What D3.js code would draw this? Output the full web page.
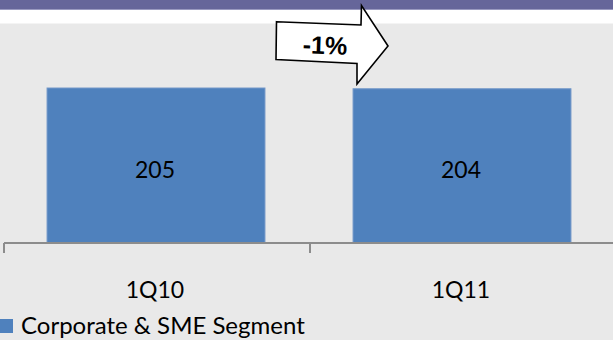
<!DOCTYPE html>
<html>
<head>
<meta charset="utf-8">
<script src="https://cdn.jsdelivr.net/npm/d3@7"></script>
<style>
  html, body { margin: 0; padding: 0; background: #fff; }
  svg { display: block; }
</style>
</head>
<body>
<script>
// ---- data ----
const categories = ["1Q10", "1Q11"];
const values = [205, 204];
const valueLabels = ["205", "204"];
const seriesName = "Corporate & SME Segment";
const changeLabel = "-1%";

const W = 613, H = 340;
const svg = d3.select("body").append("svg").attr("width", W).attr("height", H);

// background bands
svg.append("rect").attr("x", 0).attr("y", 0).attr("width", W).attr("height", H).attr("fill", "#fff");
svg.append("rect").attr("x", 0).attr("y", 23.5).attr("width", W).attr("height", H - 23.5).attr("fill", "#e9e9e9");
svg.append("rect").attr("x", 0).attr("y", 0).attr("width", W).attr("height", 9).attr("fill", "#66669a");
svg.append("rect").attr("x", 0).attr("y", 9).attr("width", W).attr("height", 1).attr("fill", "#9a9ac0");

// scales
const x = d3.scaleBand().domain(categories).range([4, 616]).padding(0);
const barFrac = 0.712;
const y = d3.scaleLinear().domain([0, 250]).range([243, 54]);

const font = "Lato, 'Open Sans', sans-serif";

// bars
const bw = x.bandwidth() * barFrac;
svg.selectAll("rect.bar").data(values).enter().append("rect")
  .attr("class", "bar")
  .attr("x", (d, i) => x(categories[i]) + x.bandwidth() / 2 - bw / 2 - 1)
  .attr("y", d => y(d))
  .attr("width", bw)
  .attr("height", d => y(0) - y(d))
  .attr("fill", "#4f81bd")
  .attr("stroke", "#7096c8")
  .attr("stroke-width", 1);

// value labels
svg.selectAll("text.val").data(valueLabels).enter().append("text")
  .attr("class", "val")
  .attr("x", (d, i) => x(categories[i]) + x.bandwidth() / 2 - 2)
  .attr("y", (d, i) => (y(values[i]) + y(0)) / 2 + 12)
  .attr("text-anchor", "middle")
  .attr("font-family", font)
  .attr("font-size", 23)
  .attr("fill", "#000")
  .text(d => d);

// axis line and ticks at band edges
svg.append("line").attr("x1", x.range()[0]).attr("x2", W).attr("y1", y(0)).attr("y2", y(0))
  .attr("stroke", "#8c8c8c").attr("stroke-width", 2);
const tickPos = categories.map(c => x(c)).concat([x.range()[1]]);
svg.selectAll("line.tick").data(tickPos).enter().append("line")
  .attr("x1", d => d).attr("x2", d => d)
  .attr("y1", y(0)).attr("y2", y(0) + 10)
  .attr("stroke", "#8c8c8c").attr("stroke-width", 2);

// category labels
svg.selectAll("text.cat").data(categories).enter().append("text")
  .attr("x", d => x(d) + x.bandwidth() / 2 - 2)
  .attr("y", 298)
  .attr("text-anchor", "middle")
  .attr("font-family", font)
  .attr("font-size", 23)
  .attr("fill", "#000")
  .text(d => d);

// legend
svg.append("rect").attr("x", 0).attr("y", 319).attr("width", 13).attr("height", 14).attr("fill", "#4f81bd");
svg.append("text").attr("x", 21).attr("y", 334)
  .attr("font-family", font)
  .attr("font-size", 24)
  .attr("fill", "#000")
  .text(seriesName);

// change arrow annotation (positioned between the two bars)
const ax = x(categories[1]); // boundary between bands
const arrowPts = [
  [-33.5, 21.7], [51, 25], [51.5, 5.5], [78, 46], [47, 84], [47, 63.5], [-34, 59.5]
];
svg.append("polygon")
  .attr("points", arrowPts.map(p => [ax + p[0], p[1]].join(",")).join(" "))
  .attr("fill", "#fff").attr("stroke", "#000").attr("stroke-width", 1.6)
  .attr("stroke-linejoin", "miter");
svg.append("text")
  .attr("x", ax + 15).attr("y", 54)
  .attr("text-anchor", "middle")
  .attr("font-family", "'Liberation Sans', Arial, sans-serif")
  .attr("font-weight", "bold")
  .attr("font-size", 25)
  .attr("transform", `rotate(2, ${ax + 15}, 46)`)
  .text(changeLabel);
</script>
</body>
</html>
